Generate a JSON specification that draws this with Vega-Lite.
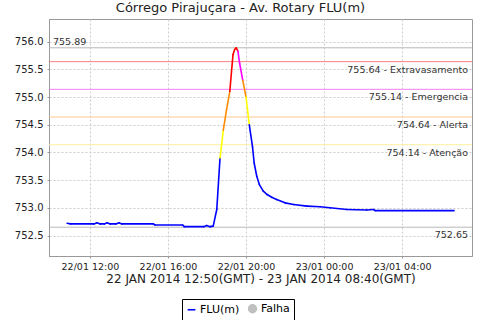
{
  "$schema": "https://vega.github.io/schema/vega-lite/v6.json",
  "autosize": {"type": "none"},
  "padding": {"left": 49, "top": 19, "right": 8, "bottom": 64},
  "width": 423,
  "height": 237,
  "background": "white",
  "config": {
    "font": "DejaVu Sans",
    "view": {"stroke": "#999999", "strokeWidth": 1},
    "axis": {"labelFont": "DejaVu Sans", "titleFont": "DejaVu Sans", "domainColor": "#999999", "tickColor": "#999999", "gridColor": "#cccccc", "gridDash": [2, 2], "labelColor": "#222222", "titleColor": "#222222", "labelOverlap": false},
    "axisY": {"labelOverlap": false, "labelFontSize": 10, "tickSize": 2, "labelPadding": 4, "format": ".1f", "grid": true}
  },
  "title": {"text": "Córrego Pirajuçara - Av. Rotary FLU(m)", "font": "DejaVu Sans", "fontSize": 13, "fontWeight": "normal", "color": "#222222", "offset": 4, "dx": -20, "anchor": "middle"},
  "datasets": {
    "serie": [
      {"t": "2014-01-22T10:50:00Z", "v": 752.72},
      {"t": "2014-01-22T11:00:00Z", "v": 752.71},
      {"t": "2014-01-22T12:12:00Z", "v": 752.71},
      {"t": "2014-01-22T12:22:00Z", "v": 752.73},
      {"t": "2014-01-22T12:31:00Z", "v": 752.71},
      {"t": "2014-01-22T12:45:00Z", "v": 752.71},
      {"t": "2014-01-22T12:53:00Z", "v": 752.73},
      {"t": "2014-01-22T13:02:00Z", "v": 752.71},
      {"t": "2014-01-22T13:20:00Z", "v": 752.71},
      {"t": "2014-01-22T13:29:00Z", "v": 752.73},
      {"t": "2014-01-22T13:38:00Z", "v": 752.71},
      {"t": "2014-01-22T15:15:00Z", "v": 752.71},
      {"t": "2014-01-22T15:20:00Z", "v": 752.69},
      {"t": "2014-01-22T16:45:00Z", "v": 752.69},
      {"t": "2014-01-22T16:50:00Z", "v": 752.66},
      {"t": "2014-01-22T17:50:00Z", "v": 752.66},
      {"t": "2014-01-22T17:59:00Z", "v": 752.68},
      {"t": "2014-01-22T18:09:00Z", "v": 752.66},
      {"t": "2014-01-22T18:19:00Z", "v": 752.67},
      {"t": "2014-01-22T18:30:00Z", "v": 752.97},
      {"t": "2014-01-22T18:40:00Z", "v": 753.90},
      {"t": "2014-01-22T18:50:00Z", "v": 754.40},
      {"t": "2014-01-22T19:00:00Z", "v": 754.77},
      {"t": "2014-01-22T19:10:00Z", "v": 755.10},
      {"t": "2014-01-22T19:20:00Z", "v": 755.77},
      {"t": "2014-01-22T19:25:00Z", "v": 755.86},
      {"t": "2014-01-22T19:30:00Z", "v": 755.89},
      {"t": "2014-01-22T19:35:00Z", "v": 755.83},
      {"t": "2014-01-22T19:40:00Z", "v": 755.62},
      {"t": "2014-01-22T19:50:00Z", "v": 755.30},
      {"t": "2014-01-22T20:00:00Z", "v": 755.00},
      {"t": "2014-01-22T20:10:00Z", "v": 754.50},
      {"t": "2014-01-22T20:20:00Z", "v": 754.10},
      {"t": "2014-01-22T20:25:00Z", "v": 753.81},
      {"t": "2014-01-22T20:33:00Z", "v": 753.57},
      {"t": "2014-01-22T20:41:00Z", "v": 753.42},
      {"t": "2014-01-22T20:53:00Z", "v": 753.30},
      {"t": "2014-01-22T21:05:00Z", "v": 753.24},
      {"t": "2014-01-22T21:19:00Z", "v": 753.19},
      {"t": "2014-01-22T21:34:00Z", "v": 753.15},
      {"t": "2014-01-22T22:00:00Z", "v": 753.09},
      {"t": "2014-01-22T22:26:00Z", "v": 753.06},
      {"t": "2014-01-22T23:07:00Z", "v": 753.03},
      {"t": "2014-01-22T23:48:00Z", "v": 753.02},
      {"t": "2014-01-23T00:18:00Z", "v": 753.00},
      {"t": "2014-01-23T01:10:00Z", "v": 752.97},
      {"t": "2014-01-23T02:11:00Z", "v": 752.96},
      {"t": "2014-01-23T02:32:00Z", "v": 752.97},
      {"t": "2014-01-23T02:37:00Z", "v": 752.95},
      {"t": "2014-01-23T06:40:00Z", "v": 752.95}
    ],
    "niveis": [
      {"v": 755.89, "nivel": "max", "rotulo": "755.89"},
      {"v": 755.64, "nivel": "Extravasamento", "rotulo": "755.64 - Extravasamento"},
      {"v": 755.14, "nivel": "Emergencia", "rotulo": "755.14 - Emergencia"},
      {"v": 754.64, "nivel": "Alerta", "rotulo": "754.64 - Alerta"},
      {"v": 754.14, "nivel": "Atenção", "rotulo": "754.14 - Atenção"},
      {"v": 752.65, "nivel": "min", "rotulo": "752.65"}
    ],
    "legenda": [{"serie": "FLU(m)"}, {"serie": "Falha"}]
  },
  "layer": [
    {
      "data": {"name": "niveis"},
      "mark": {"type": "rule", "strokeWidth": 1},
      "encoding": {
        "y": {"field": "v", "type": "quantitative", "scale": {"domain": [752.13, 756.41], "nice": false, "zero": false}, "title": null,
          "axis": {"values": [752.5, 753.0, 753.5, 754.0, 754.5, 755.0, 755.5, 756.0], "labelOverlap": false}},
        "color": {"field": "nivel", "type": "nominal", "scale": {"domain": ["max", "Extravasamento", "Emergencia", "Alerta", "Atenção", "min"], "range": ["#b8b8b8", "#ff8080", "#f080f0", "#ffc890", "#fff0a0", "#b8b8b8"]}, "legend": null}
      }
    },
    {
      "data": {"name": "serie", "format": {"parse": {"t": "date"}}},
      "transform": [
        {"window": [{"op": "lead", "field": "v", "as": "v2"}, {"op": "lead", "field": "t", "as": "t2"}], "sort": [{"field": "t", "order": "ascending"}]},
        {"filter": "datum.t2 != null"}
      ],
      "mark": {"type": "rule", "strokeWidth": 1.6, "strokeCap": "round"},
      "encoding": {
        "x": {
          "field": "t", "type": "temporal",
          "scale": {"type": "utc", "domain": [1390384440000, 1390462500000]},
          "axis": {"format": "%d/%m %H:%M", "values": [1390392000000, 1390406400000, 1390420800000, 1390435200000, 1390449600000], "grid": true, "labelFontSize": 9.5, "tickSize": 2, "labelPadding": 3, "titleFontSize": 12, "titleFontWeight": "normal", "titlePadding": 3},
          "title": "22 JAN 2014 12:50(GMT) - 23 JAN 2014 08:40(GMT)"
        },
        "x2": {"field": "t2"},
        "y": {"field": "v", "type": "quantitative", "scale": {"domain": [752.13, 756.41], "nice": false, "zero": false}, "title": null,
          "axis": {"values": [752.5, 753.0, 753.5, 754.0, 754.5, 755.0, 755.5, 756.0], "labelOverlap": false}},
        "y2": {"field": "v2"},
        "color": {"field": "v2", "type": "quantitative", "scale": {"type": "threshold", "domain": [754.14, 754.64, 755.14, 755.64], "range": ["#0000ff", "#ffff00", "#ff8c00", "#ff00ff", "#ff0000"]}, "legend": null}
      }
    },
    {
      "data": {"name": "niveis"},
      "transform": [{"filter": "datum.nivel == 'max'"}],
      "mark": {"type": "text", "align": "left", "baseline": "bottom", "dx": 4, "dy": -1, "fontSize": 9.5, "color": "#333333", "font": "DejaVu Sans"},
      "encoding": {
        "x": {"value": 0},
        "y": {"field": "v", "type": "quantitative", "scale": {"domain": [752.13, 756.41], "nice": false, "zero": false}, "title": null,
          "axis": {"values": [752.5, 753.0, 753.5, 754.0, 754.5, 755.0, 755.5, 756.0], "labelOverlap": false}},
        "text": {"field": "rotulo"}
      }
    },
    {
      "data": {"name": "niveis"},
      "transform": [{"filter": "datum.nivel != 'max'"}],
      "mark": {"type": "text", "align": "right", "baseline": "top", "dx": -4, "dy": 3, "fontSize": 9.5, "color": "#333333", "font": "DejaVu Sans"},
      "encoding": {
        "x": {"value": "width"},
        "y": {"field": "v", "type": "quantitative", "scale": {"domain": [752.13, 756.41], "nice": false, "zero": false}, "title": null,
          "axis": {"values": [752.5, 753.0, 753.5, 754.0, 754.5, 755.0, 755.5, 756.0], "labelOverlap": false}},
        "text": {"field": "rotulo"}
      }
    },
    {
      "data": {"name": "legenda"},
      "mark": {"type": "point", "filled": true, "opacity": 0, "size": 60},
      "encoding": {
        "color": {
          "field": "serie", "type": "nominal",
          "scale": {"domain": ["FLU(m)", "Falha"], "range": ["#0000ff", "#c0c0c0"]},
          "legend": {
            "orient": "none", "legendX": 133, "legendY": 280, "direction": "horizontal", "title": null,
            "strokeColor": "#000000", "padding": 4, "cornerRadius": 0,
            "labelFontSize": 11, "labelFont": "DejaVu Sans", "labelColor": "#000000",
            "symbolSize": 60, "columnPadding": 5, "labelOffset": 3, "symbolOpacity": 1,
            "encode": {"symbols": {"update": {
              "shape": {"signal": "datum.value === 'FLU(m)' ? 'stroke' : 'circle'"},
              "stroke": {"signal": "datum.value === 'FLU(m)' ? '#0000ff' : '#c0c0c0'"},
              "strokeWidth": {"value": 1.6},
              "opacity": {"value": 1}
            }}}
          }
        }
      }
    }
  ],
  "resolve": {"scale": {"color": "independent"}, "legend": {"color": "independent"}}
}
